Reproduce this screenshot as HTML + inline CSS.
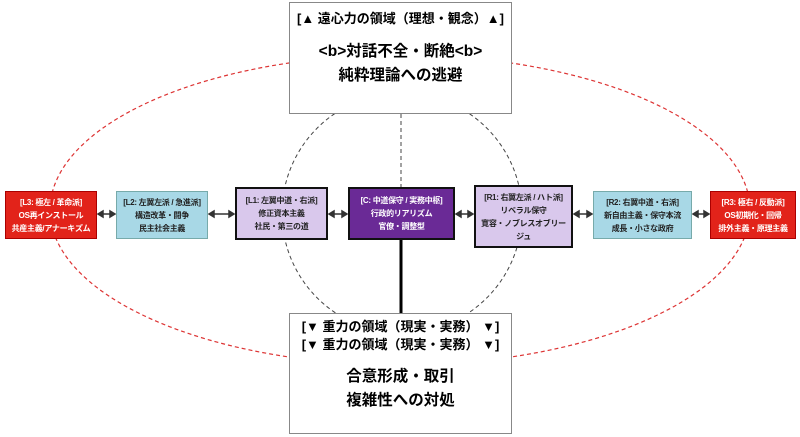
<!DOCTYPE html>
<html><head><meta charset="utf-8"><style>
html,body{margin:0;padding:0;background:#fff;}
.d{position:absolute;box-sizing:border-box;display:flex;flex-direction:column;justify-content:center;align-items:center;text-align:center;font-family:"Liberation Sans","Noto Sans CJK JP",sans-serif;font-weight:bold;}
.n{font-size:8px;line-height:13px;white-space:nowrap;letter-spacing:-0.3px;}
</style></head><body>
<div style="position:relative;width:800px;height:437px;overflow:hidden">
<svg width="800" height="437" style="position:absolute;left:0;top:0">
<ellipse cx="400" cy="210" rx="350" ry="155" fill="none" stroke="#d33" stroke-width="1.2" stroke-dasharray="4,3"/>
<circle cx="402" cy="213" r="120" fill="none" stroke="#444" stroke-width="1" stroke-dasharray="4,3"/>
<line x1="401" y1="114" x2="401" y2="188" stroke="#444" stroke-dasharray="4,3"/>
<line x1="401" y1="240" x2="401" y2="313" stroke="#000" stroke-width="3"/>
<g stroke="#333" stroke-width="1.5" fill="#333">
<line x1="100" y1="214" x2="113" y2="214"/><path d="M98 214l5-3v6z M115 214l-5-3v6z"/>
<line x1="211" y1="214" x2="232" y2="214"/><path d="M209 214l5-3v6z M234 214l-5-3v6z"/>
<line x1="331" y1="214" x2="345" y2="214"/><path d="M329 214l5-3v6z M347 214l-5-3v6z"/>
<line x1="458" y1="214" x2="471" y2="214"/><path d="M456 214l5-3v6z M473 214l-5-3v6z"/>
<line x1="576" y1="214" x2="590" y2="214"/><path d="M574 214l5-3v6z M592 214l-5-3v6z"/>
<line x1="695" y1="214" x2="707" y2="214"/><path d="M693 214l5-3v6z M709 214l-5-3v6z"/>
</g>
</svg>
<div class="d" style="left:289px;top:2px;width:223px;height:112px;border:1px solid #888;background:#fff;justify-content:flex-start">
<div style="font-size:13px;margin-top:5px;white-space:nowrap">[▲ 遠心力の領域（理想・観念）▲]</div>
<div style="font-size:15.5px;line-height:24px;margin-top:13px">&lt;b&gt;対話不全・断絶&lt;b&gt;<br>純粋理論への逃避</div></div>
<div class="d" style="left:289px;top:313px;width:223px;height:121px;border:1px solid #888;background:#fff;justify-content:flex-start">
<div style="font-size:13px;line-height:18px;margin-top:4px;white-space:nowrap">[▼ 重力の領域（現実・実務） ▼]<br>[▼ 重力の領域（現実・実務） ▼]</div>
<div style="font-size:15.5px;line-height:24px;margin-top:11px">合意形成・取引<br>複雑性への対処</div></div>
<div class="d n" style="left:5px;top:191px;width:92px;height:48px;background:#e2231a;border:1px solid #a00;color:#fff">[L3: 極左 / 革命派]<br>OS再インストール<br>共産主義/アナーキズム</div>
<div class="d n" style="left:116px;top:191px;width:92px;height:48px;background:#a8d8e6;border:1px solid #7aa;color:#222">[L2: 左翼左派 / 急進派]<br>構造改革・闘争<br>民主社会主義</div>
<div class="d n" style="left:235px;top:187px;width:93px;height:53px;background:#d9c8ec;border:2px solid #111;color:#222">[L1: 左翼中道・右派]<br>修正資本主義<br>社民・第三の道</div>
<div class="d n" style="left:348px;top:187px;width:107px;height:53px;background:#6a2a96;border:2px solid #111;color:#fff">[C: 中道保守 / 実務中枢]<br>行政的リアリズム<br>官僚・調整型</div>
<div class="d n" style="left:474px;top:185px;width:99px;height:63px;background:#d9c8ec;border:2px solid #111;color:#222">[R1: 右翼左派 / ハト派]<br>リベラル保守<br>寛容・ノブレスオブリー<br>ジュ</div>
<div class="d n" style="left:593px;top:191px;width:99px;height:48px;background:#a8d8e6;border:1px solid #7aa;color:#222">[R2: 右翼中道・右派]<br>新自由主義・保守本流<br>成長・小さな政府</div>
<div class="d n" style="left:710px;top:191px;width:86px;height:48px;background:#e2231a;border:1px solid #a00;color:#fff">[R3: 極右 / 反動派]<br>OS初期化・回帰<br>排外主義・原理主義</div>
</div>
</body></html>
